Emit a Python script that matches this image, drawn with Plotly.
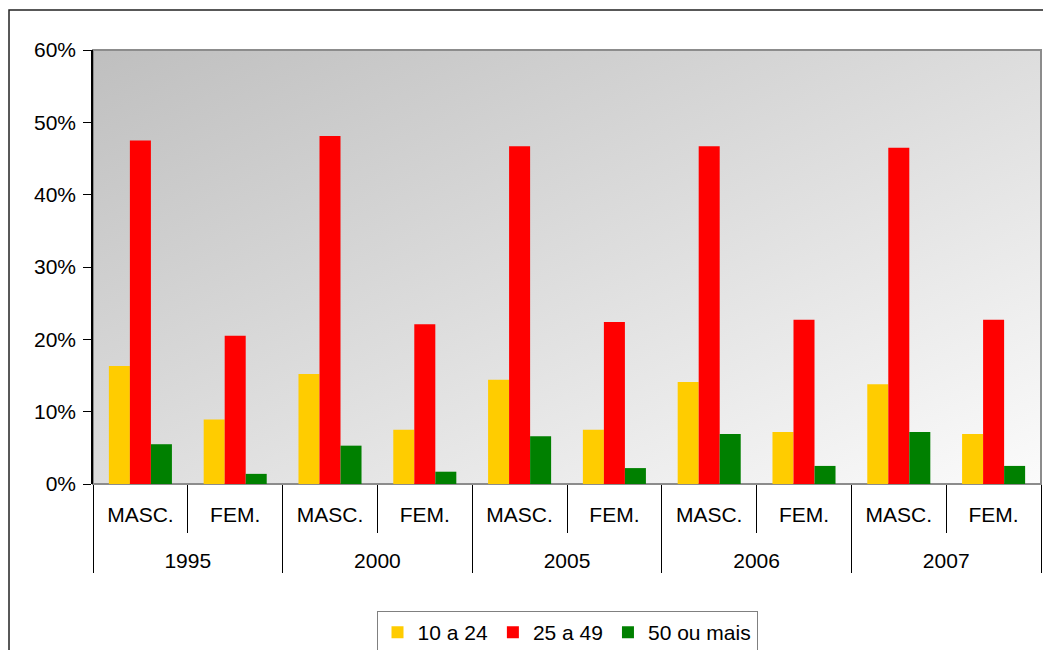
import base64
import plotly.graph_objects as go

years = ["1995", "1995", "2000", "2000", "2005", "2005", "2006", "2006", "2007", "2007"]
sexes = ["MASC.", "FEM.", "MASC.", "FEM.", "MASC.", "FEM.", "MASC.", "FEM.", "MASC.", "FEM."]
series_names = ["10 a 24", "25 a 49", "50 ou mais"]
v_10_24 = [0.163, 0.089, 0.152, 0.075, 0.144, 0.075, 0.141, 0.072, 0.138, 0.069]
v_25_49 = [0.475, 0.205, 0.481, 0.221, 0.467, 0.224, 0.467, 0.227, 0.465, 0.227]
v_50_mais = [0.055, 0.014, 0.053, 0.017, 0.066, 0.022, 0.069, 0.025, 0.072, 0.025]
colors = ["#FFCC00", "#FF0000", "#008000"]

FONT = "Liberation Sans, Arial, sans-serif"
FS = 21

# a spacer line below the inner labels pushes the year row further down
spacer = "<br><span style='font-size:54px'>\u00a0</span>"
sex_labels = [s + spacer for s in sexes]

fig = go.Figure()
for name, vals, col in zip(series_names, [v_10_24, v_25_49, v_50_mais], colors):
    fig.add_trace(go.Bar(x=[years, sex_labels], y=vals, name=name,
                         marker=dict(color=col, line=dict(width=0))))

svg = ('<svg xmlns="http://www.w3.org/2000/svg" width="100" height="100" preserveAspectRatio="none">'
       '<defs><linearGradient id="g" x1="0" y1="0" x2="1" y2="1">'
       '<stop offset="0" stop-color="#bfbfbf"/><stop offset="1" stop-color="#fbfbfb"/>'
       '</linearGradient></defs><rect width="100" height="100" fill="url(#g)"/></svg>')
src = "data:image/svg+xml;base64," + base64.b64encode(svg.encode()).decode()

shapes = [
    dict(type="rect", xref="paper", yref="paper", x0=0, y0=0, x1=1, y1=1,
         line=dict(color="#8c8c8c", width=2), layer="below"),
    dict(type="rect", xref="paper", yref="paper", x0=-0.0886, y0=1.092, x1=1.05, y1=-0.5,
         line=dict(color="#222222", width=1.5), layer="below"),
]

fig.update_layout(
    width=1043, height=650,
    margin=dict(l=93, r=2, t=50, b=166, autoexpand=False),
    paper_bgcolor="white",
    plot_bgcolor="rgba(0,0,0,0)",
    barmode="group", bargap=0.335, bargroupgap=0,
    font=dict(family=FONT, size=FS, color="#000000"),
    images=[dict(source=src, xref="paper", yref="paper", x=0, y=1, sizex=1, sizey=1,
                 sizing="stretch", layer="below", xanchor="left", yanchor="top")],
    shapes=shapes,
    xaxis=dict(type="multicategory", showgrid=False, showline=False, automargin=False,
               ticks="outside", tickson="boundaries", ticklen=48, tickcolor="#000000", tickwidth=1,
               ticklabelstandoff=16,
               showdividers=True, dividercolor="#000000", dividerwidth=1,
               tickfont=dict(family=FONT, size=FS, color="#000000")),
    yaxis=dict(range=[0, 0.6], dtick=0.1, tickformat=".0%", showgrid=False, zeroline=False,
               automargin=False,
               ticks="outside", ticklen=8, tickcolor="#000000", showline=True,
               linecolor="#000000", linewidth=1.5, ticklabelstandoff=3,
               tickfont=dict(family=FONT, size=FS, color="#000000")),
    legend=dict(orientation="h", x=0.5, xanchor="center", xref="paper",
                y=0.06, yanchor="top", yref="container",
                bordercolor="#808080", borderwidth=1, bgcolor="white",
                font=dict(family=FONT, size=FS), itemwidth=30, tracegroupgap=0),
)

fig.write_html("out.html", config={"displayModeBar": False},
               post_script="document.body.style.margin='0px';document.body.style.overflow='hidden';")
